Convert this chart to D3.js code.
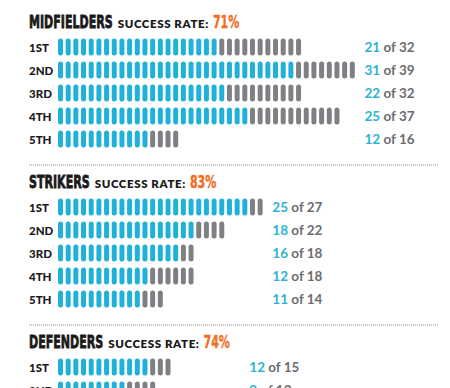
<!DOCTYPE html>
<html>
<head>
<meta charset="utf-8">
<script src="https://cdn.jsdelivr.net/npm/d3@7"></script>
<style>
  body { margin: 0; background: #fff; }
  svg { display: block; }
</style>
</head>
<body>
<div id="chart"></div>
<script>
// positions / section names
const sections = ["MIDFIELDERS", "STRIKERS", "DEFENDERS"];
const rates = ["71%", "83%", "74%"];
const kicks = ["1ST", "2ND", "3RD", "4TH", "5TH"];

// scored / taken per kick order
const midfieldScored = [21, 31, 22, 25, 12];
const midfieldTaken = [32, 39, 32, 37, 16];
const strikersScored = [25, 18, 16, 12, 11];
const strikersTaken = [27, 22, 18, 18, 14];
// only 1ST and 2ND are visible, the rest is cut off below (estimated)
const defendersScored = [12, 9, 18, 13, 8];
const defendersTaken = [15, 13, 24, 18, 11];

const scoredBySection = [midfieldScored, strikersScored, defendersScored];
const takenBySection = [midfieldTaken, strikersTaken, defendersTaken];

const width = 450,
  height = 388;

const cyan = "#1fb1d8",
  grey = "#7f8083",
  orange = "#f26e24",
  ink = "#1a1a1a";

let svg = d3
  .select("#chart")
  .append("svg")
  .attr("width", width)
  .attr("height", height);

// one pill = one penalty
const x = d3.scaleLinear().domain([0, 39]).range([58, 357.5]);
const pillW = 5,
  pillH = 17;

// vertical layout: section title baselines, row bands inside a section
const sectionY = d3.scaleLinear().domain([0, 1]).range([28, 188]);
const rowY = d3.scaleBand().domain(kicks).range([7.5, 122.5]);

const squeeze = 0.65; // condensed headline look

sections.forEach((name, s) => {
  const top = sectionY(s);
  const g = svg.append("g").attr("transform", "translate(0," + top + ")");

  // separator above the section
  if (s > 0) {
    g.append("line")
      .attr("x1", 29)
      .attr("x2", 438)
      .attr("y1", -23)
      .attr("y2", -23)
      .attr("stroke", "#8a8a8a")
      .attr("stroke-width", 1)
      .attr("stroke-dasharray", "1,1");
  }

  // title: heavy condensed name, small caps label, orange rate
  const title = g
    .append("text")
    .attr("font-family", "DejaVu Sans")
    .attr("font-weight", "bold")
    .attr("font-size", 17)
    .attr("fill", ink)
    .attr("stroke", ink)
    .attr("stroke-width", 0.8)
    .text(name);
  const tw = title.node().getComputedTextLength() * squeeze;
  title.attr("transform", "translate(29,0) scale(" + squeeze + ",1)");

  const label = g
    .append("text")
    .attr("x", 29 + tw + 5)
    .attr("font-family", "Lato")
    .attr("font-weight", 800)
    .attr("font-size", 11.5)
    .attr("letter-spacing", 0.6)
    .attr("fill", ink)
    .text("SUCCESS RATE:");
  const lw = label.node().getComputedTextLength();

  const rate = g
    .append("text")
    .attr("font-family", "DejaVu Sans")
    .attr("font-weight", "bold")
    .attr("font-size", 17)
    .attr("fill", orange)
    .attr("stroke", orange)
    .attr("stroke-width", 0.4)
    .text(rates[s]);
  rate.attr(
    "transform",
    "translate(" + (29 + tw + 5 + lw + 4) + ",0) scale(" + squeeze + ",1)"
  );

  const scored = scoredBySection[s];
  const taken = takenBySection[s];
  const valueX = x(d3.max(taken)) + 7;

  const rows = g
    .selectAll(".row")
    .data(kicks)
    .enter()
    .append("g")
    .attr("class", "row")
    .attr("transform", (d) => "translate(0," + (rowY(d) + rowY.bandwidth() / 2) + ")");

  rows
    .append("text")
    .attr("x", 29)
    .attr("y", 4.5)
    .attr("font-family", "Lato")
    .attr("font-weight", 900)
    .attr("font-size", 11.5)
    .attr("fill", ink)
    .text((d) => d);

  rows
    .selectAll("rect")
    .data((d, i) => d3.range(taken[i]).map((k) => ({ k: k, hit: k < scored[i] })))
    .enter()
    .append("rect")
    .attr("x", (d) => x(d.k))
    .attr("y", -pillH / 2)
    .attr("width", pillW)
    .attr("height", pillH)
    .attr("rx", 2.5)
    .attr("ry", 2.5)
    .attr("fill", (d) => (d.hit ? cyan : grey));

  const val = rows
    .append("text")
    .attr("x", valueX)
    .attr("y", 5)
    .attr("font-family", "Lato")
    .attr("font-size", 13.5);
  val
    .append("tspan")
    .attr("fill", "#2cb4d2")
    .attr("font-weight", 700)
    .text((d, i) => scored[i]);
  val
    .append("tspan")
    .attr("fill", "#6b6c6f")
    .attr("font-weight", 700)
    .text((d, i) => " of " + taken[i]);
});
</script>
</body>
</html>
